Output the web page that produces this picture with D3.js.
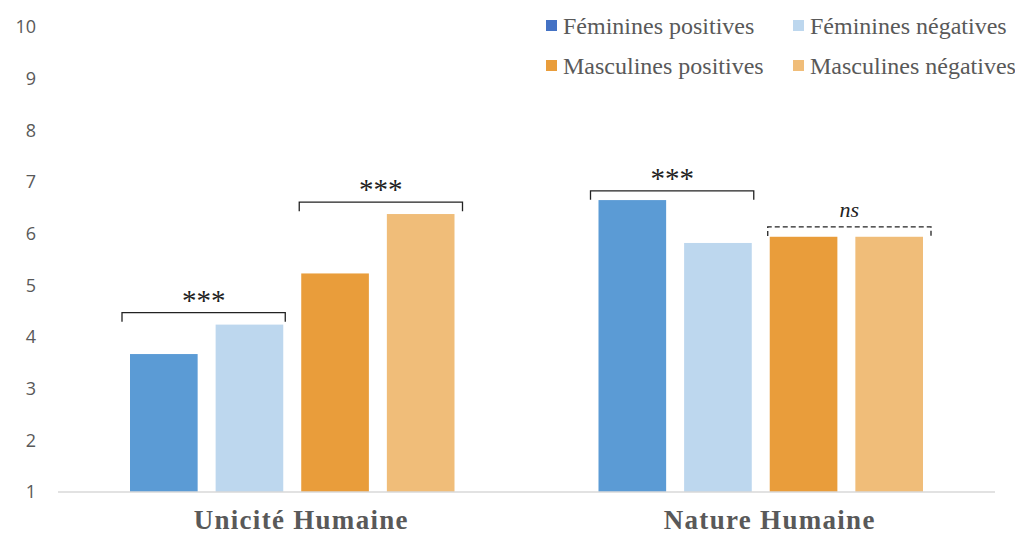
<!DOCTYPE html>
<html>
<head>
<meta charset="utf-8">
<title>chart</title>
<style>
  body { margin: 0; background: #fff; }
</style>
<script src="https://d3js.org/d3.v7.min.js"></script>
</head>
<body>
<svg id="chart" width="1015" height="536"></svg>
<script>
// data
var categories = ["Unicité Humaine", "Nature Humaine"];
var series = ["Féminines positives", "Féminines négatives", "Masculines positives", "Masculines négatives"];
var barColors = ["#5b9bd5", "#bdd7ee", "#e99d3b", "#f0bd79"];
var legendColors = ["#4472c4", "#bdd7ee", "#e99d3b", "#f0bd79"];
var values = [
  [3.67, 4.24, 5.23, 6.38],   // Unicité Humaine
  [6.65, 5.82, 5.94, 5.94]    // Nature Humaine
];
var yTicks = [1, 2, 3, 4, 5, 6, 7, 8, 9, 10];
// significance brackets: category, first series, last series, label, height on value scale
var brackets = [
  {cat: 0, from: 0, to: 1, label: "***", dashed: false, level: 4.47},
  {cat: 0, from: 2, to: 3, label: "***", dashed: false, level: 6.61},
  {cat: 1, from: 0, to: 1, label: "***", dashed: false, level: 6.83},
  {cat: 1, from: 2, to: 3, label: "ns", dashed: true, level: 6.13}
];

var SERIF = "'Liberation Serif'";
var SANS = "'Open Sans'";

var svg = d3.select("#chart");
var margin = {top: 27, right: 20, bottom: 44, left: 58};
var width = 1015 - margin.left - margin.right,
    height = 536 - margin.top - margin.bottom;

var g = svg.append("g")
  .attr("transform", "translate(" + margin.left + "," + margin.top + ")");

var x0 = d3.scaleBand().domain(categories).range([0, width]);
var x1 = d3.scaleBand().domain(series).range([72, x0.bandwidth() - 72]).paddingInner(0.21);
var y = d3.scaleLinear().domain([1, 10]).range([height, 0]);

// y tick labels (no axis line, no gridlines)
var yAxis = g.append("g")
  .call(d3.axisLeft(y).tickValues(yTicks).tickSize(0).tickPadding(22).tickFormat(d3.format("d")));
yAxis.select(".domain").remove();
yAxis.selectAll("text")
  .style("font-family", SANS)
  .style("font-size", "18px")
  .attr("fill", "#595959");

// bars
var groups = g.selectAll(".cat")
  .data(categories)
  .enter().append("g")
  .attr("class", "cat")
  .attr("transform", function(d) { return "translate(" + x0(d) + ",0)"; });

groups.selectAll("rect")
  .data(function(d, i) { return values[i].map(function(v, j) { return {s: series[j], v: v, j: j}; }); })
  .enter().append("rect")
  .attr("x", function(d) { return x1(d.s); })
  .attr("y", function(d) { return y(d.v); })
  .attr("width", x1.bandwidth())
  .attr("height", function(d) { return y(1) - y(d.v); })
  .attr("fill", function(d) { return barColors[d.j]; });

// x axis baseline
g.append("line")
  .attr("x1", 0).attr("x2", width)
  .attr("y1", y(1)).attr("y2", y(1))
  .attr("stroke", "#d9d9d9").attr("stroke-width", 1.5);

// category labels
g.selectAll(".catlabel")
  .data(categories)
  .enter().append("text")
  .attr("x", function(d) { return x0(d) + x0.bandwidth() / 2 + 9; })
  .attr("y", height + 37)
  .attr("text-anchor", "middle")
  .style("font-family", SERIF)
  .style("font-size", "27px")
  .style("font-weight", "bold")
  .style("letter-spacing", "1.3px")
  .attr("fill", "#595959")
  .text(function(d) { return d; });

// significance brackets
brackets.forEach(function(b) {
  var cx = x0(categories[b.cat]);
  var shift = b.from === 0 ? -3 : 3;
  var xa = cx + x1(series[b.from]) - 5 + shift;
  var xb = cx + x1(series[b.to]) + x1.bandwidth() + 5 + shift;
  var yl = y(b.level);
  g.append("path")
    .attr("d", "M" + xa + "," + (yl + 9) + "V" + yl + "H" + xb + "V" + (yl + 9))
    .attr("fill", "none")
    .attr("stroke", "#222")
    .attr("stroke-width", 1.3)
    .attr("stroke-dasharray", b.dashed ? "5,3" : null);
  g.append("text")
    .attr("x", (xa + xb) / 2)
    .attr("y", b.dashed ? yl - 10 : yl - 3)
    .attr("text-anchor", "middle")
    .style("font-family", SERIF)
    .style("font-size", b.dashed ? "22px" : "29px")
    .style("font-style", b.dashed ? "italic" : "normal")
    .attr("fill", "#222")
    .text(b.label);
});

// legend
var legendPos = [[546, 20], [793, 20], [546, 60], [793, 60]];
var legend = svg.selectAll(".legend")
  .data(series)
  .enter().append("g")
  .attr("class", "legend")
  .attr("transform", function(d, i) { return "translate(" + legendPos[i][0] + "," + legendPos[i][1] + ")"; });
legend.append("rect")
  .attr("width", 11).attr("height", 11)
  .attr("fill", function(d, i) { return legendColors[i]; });
legend.append("text")
  .attr("x", 17).attr("y", 14)
  .style("font-family", SERIF)
  .style("font-size", "24px")
  .attr("fill", "#595959")
  .text(function(d) { return d; });
</script>
</body>
</html>
